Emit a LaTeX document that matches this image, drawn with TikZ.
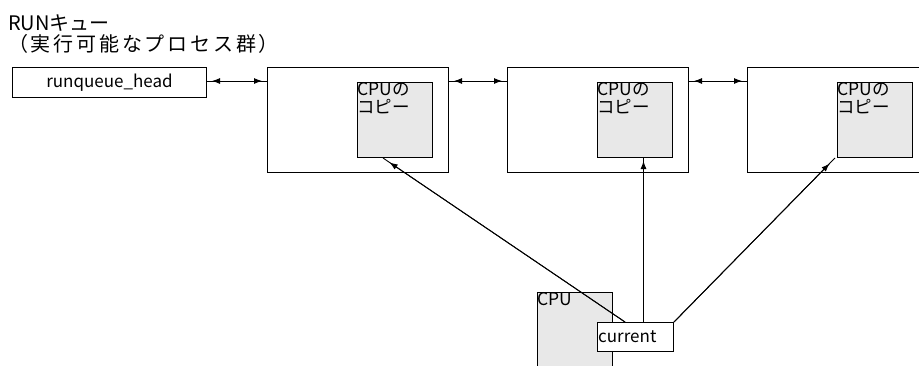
\documentclass[tikz,border=0pt]{standalone}
\usepackage{fontspec}
\newfontfamily\jp{Noto Sans CJK JP}
\newfontfamily\jpwide[LetterSpace=14]{Noto Sans CJK JP}
\usetikzlibrary{arrows.meta}
\definecolor{boxgrey}{RGB}{232,232,232}
\tikzset{
  outerbox/.style={draw=black, line width=1pt, fill=white, minimum width=181pt, minimum height=105pt, anchor=north west, inner sep=0pt},
  innerbox/.style={draw=black, line width=1pt, fill=boxgrey, minimum width=75pt, minimum height=75pt, anchor=north west, inner sep=0pt},
  boxtext/.style={anchor=north west, inner sep=0pt, align=left, font=\jp\fontsize{17.5}{18}\selectfont},
  plainbox/.style={draw=black, line width=1pt, fill=white, anchor=north west, inner sep=0pt},
  conn/.style={line width=0.9pt, draw=black},
  tip/.style={-{Latex[length=8pt,width=6pt]}, line width=0.9pt},
  dtip/.style={{Latex[length=8pt,width=6pt]}-{Latex[length=8pt,width=6pt]}, line width=0.9pt, shorten <=5pt, shorten >=5pt},
}
\begin{document}
\begin{tikzpicture}[x=1pt,y=-1pt]
\useasboundingbox (0,0) rectangle (919,365);
\clip (0,0) rectangle (919,365);
\fill[white] (0,0) rectangle (919,365);

% title
\node[anchor=north west, inner sep=0pt, align=left, font=\jp\fontsize{20}{21.5}\selectfont] (title) at (8,14)
  {RUNキュー\\{\jpwide（実行可能なプロセス群）}};

% runqueue head
\node[plainbox, minimum width=194pt, minimum height=30pt, font=\jp\fontsize{17}{18}\selectfont] (head) at (12,67) {runqueue\_head};

% process boxes
\node[outerbox] (p1) at (267,67) {};
\node[outerbox] (p2) at (507,67) {};
\node[outerbox] (p3) at (747,67) {};

\node[innerbox] (in1) at (357,82) {};
\node[innerbox] (in2) at (597,82) {};
\node[innerbox] (in3) at (837,82) {};

\node[boxtext] (t1) at (in1.north west) {CPUの\\コピー};
\node[boxtext] (t2) at (in2.north west) {CPUの\\コピー};
\node[boxtext] (t3) at (in3.north west) {CPUの\\コピー};

% links between queue entries
\draw[conn] (head.east |- 0,81) -- (p1.west |- 0,81);
\draw[dtip] (head.east |- 0,81) -- (p1.west |- 0,81);
\draw[conn] (p1.east |- 0,81) -- (p2.west |- 0,81);
\draw[dtip] (p1.east |- 0,81) -- (p2.west |- 0,81);
\draw[conn] (p2.east |- 0,81) -- (p3.west |- 0,81);
\draw[dtip] (p2.east |- 0,81) -- (p3.west |- 0,81);

% CPU
\node[draw=black, line width=1pt, fill=boxgrey, minimum width=75pt, minimum height=90pt, anchor=north west, inner sep=0pt] (cpu) at (537,292) {};
\node[boxtext] (cputext) at (cpu.north west) {CPU};
\node[plainbox, minimum width=76pt, minimum height=29pt] (cur) at (597,322) {};
\node[anchor=west, inner sep=0pt, font=\jp\fontsize{17}{18}\selectfont] (curtext) at ([xshift=1pt]cur.west) {current};

% pointers from current
\coordinate (s1) at ([xshift=28pt]cur.north west);
\coordinate (e1) at ([xshift=26pt]in1.south west);
\draw[conn] (s1) -- (e1);
\draw[tip, shorten >=8pt] (s1) -- (e1);

\coordinate (s2) at ([xshift=8pt]cur.north);
\coordinate (e2) at (s2 |- in2.south);
\draw[conn] (s2) -- (e2);
\draw[tip, shorten >=3pt] (s2) -- (e2);

\coordinate (s3) at (cur.north east);
\coordinate (e3) at ([xshift=-2pt]in3.south west);
\draw[conn] (s3) -- (e3);
\draw[tip, shorten >=8pt] (s3) -- (e3);
\end{tikzpicture}
\end{document}
